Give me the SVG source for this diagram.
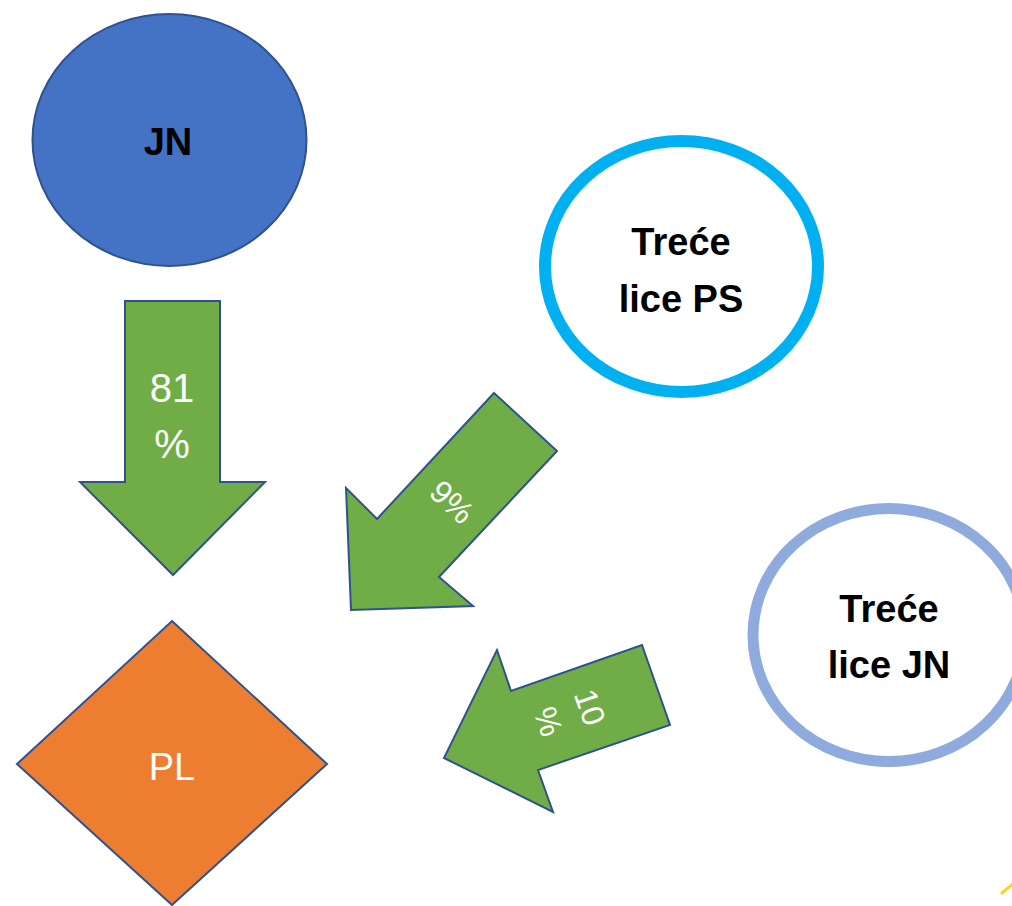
<svg xmlns="http://www.w3.org/2000/svg" width="1012" height="906" viewBox="0 0 1012 906">
  <style>
    .flow { fill: #70AD47; stroke: #2F528F; stroke-width: 2; stroke-linejoin: miter; }
    .lbl-w { font-family: "Liberation Sans", Arial, sans-serif; fill: #FFFFFF; text-anchor: middle; }
    .lbl-b { font-family: "Liberation Sans", Arial, sans-serif; font-weight: bold; fill: #000000; text-anchor: middle; font-size: 38px; }
  </style>
  <rect x="0" y="0" width="1012" height="906" fill="#FFFFFF"/>

  <!-- flow arrows with their shares -->
  <g id="connectors">
    <g id="arrow-jn-pl">
      <polygon class="flow" points="125,301 220,301 220,482 265,482 173,575 80,482 125,482"/>
      <text class="lbl-w" x="172" y="402" font-size="40">81</text>
      <text class="lbl-w" x="172" y="458" font-size="40">%</text>
    </g>
    <g id="arrow-ps-pl">
      <polygon class="flow" points="494,393 557,451 439,577 473,606 351,610 346,488 377,519"/>
      <text class="lbl-w" font-size="32" transform="translate(452,502) rotate(43)" x="0" y="11">9%</text>
    </g>
    <g id="arrow-tjn-pl">
      <polygon class="flow" points="642,645 670,725 538,770 553,812 444,758 497,650 511,691"/>
      <g transform="translate(569,714.5) rotate(71)">
        <text class="lbl-w" font-size="32" x="0" y="-11">10</text>
        <text class="lbl-w" font-size="32" x="0" y="33">%</text>
      </g>
    </g>
  </g>

  <g id="node-jn">
    <ellipse cx="169.5" cy="140" rx="137" ry="126" fill="#4472C4" stroke="#2F528F" stroke-width="2"/>
    <text class="lbl-b" x="168" y="155">JN</text>
  </g>

  <g id="node-treca-ps">
    <ellipse cx="681.5" cy="266.5" rx="136.5" ry="125.5" fill="#FFFFFF" stroke="#00B0F0" stroke-width="12"/>
    <text class="lbl-b" x="681" y="255">Treće</text>
    <text class="lbl-b" x="681" y="312">lice PS</text>
  </g>

  <g id="node-treca-jn">
    <ellipse cx="889" cy="635" rx="136" ry="126.5" fill="#FFFFFF" stroke="#8FAADC" stroke-width="11"/>
    <text class="lbl-b" x="889" y="622">Treće</text>
    <text class="lbl-b" x="889" y="678">lice JN</text>
  </g>

  <g id="node-pl">
    <polygon points="172,621 327,764 172,905 17,764" fill="#ED7D31" stroke="#2F528F" stroke-width="2"/>
    <text class="lbl-w" x="172" y="780" font-size="38">PL</text>
  </g>

  <!-- edge of a shape beyond the lower right corner -->
  <line x1="1002" y1="893" x2="1014" y2="883" stroke="#FFD21F" stroke-width="3" stroke-linecap="round"/>
</svg>
